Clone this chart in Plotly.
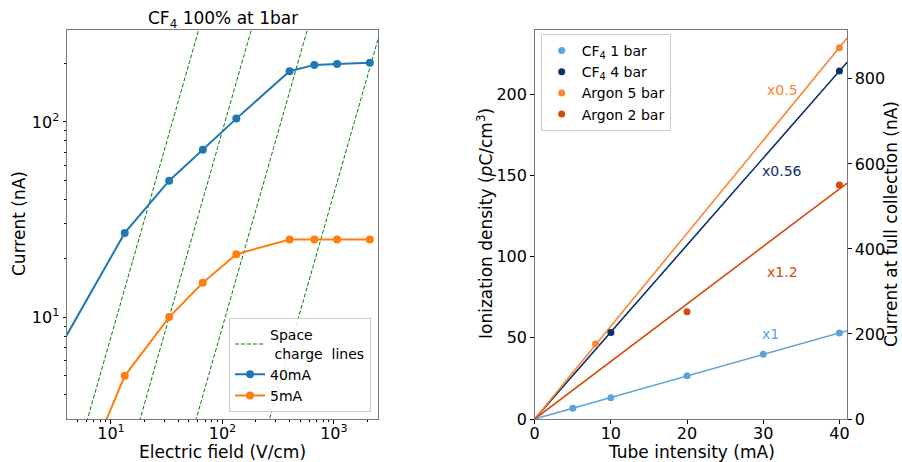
import numpy as np
import plotly.graph_objects as go

# ---------------- Left panel data ----------------
field = [3.33, 13.3, 33.3, 66.7, 133.3, 400, 667, 1067, 2100]
cur_40mA = [6.7, 27, 50, 72, 104, 182, 196, 198, 201]
cur_5mA = [0.76, 5.0, 10, 15, 21, 25, 25, 25, 25]
space_charge_k = [0.079, 0.009, 0.00089, 0.000043]  # I = k * E^2

# ---------------- Right panel data ----------------
cf4_1bar_x = [5, 10, 20, 30, 40]
cf4_1bar_y = [6.6, 13.1, 26.6, 39.8, 52.9]
cf4_4bar_x = [10, 40]
cf4_4bar_y = [53.3, 214.2]
ar_5bar_x = [8, 40]
ar_5bar_y = [46.2, 228.5]
ar_2bar_x = [20, 40]
ar_2bar_y = [66, 144]

labels_right = ["CF<sub>4</sub> 1 bar", "CF<sub>4</sub> 4 bar", "Argon 5 bar", "Argon 2 bar"]
colors_right = ["#5ba3d9", "#0b2f6b", "#fd8535", "#d64a0a"]
scale_texts = ["x1", "x0.56", "x0.5", "x1.2"]
scale_pos_x = [31.0, 32.5, 32.5, 32.5]
scale_pos_y = [52.5, 152.5, 202.2, 90.3]

FONT = "DejaVu Sans"
fig = go.Figure()

# Space charge lines (one trace with gaps)
E_ends = [1.0, 10000.0]
sx, sy = [], []
for k in space_charge_k:
    for e in E_ends:
        sx.append(e)
        sy.append(k * e ** 2)
    sx.append(None)
    sy.append(None)
fig.add_trace(go.Scatter(
    x=sx, y=sy, mode="lines", name="Space<br>\u00a0charge\u00a0\u00a0lines",
    line=dict(color="#008000", width=1, dash="4px,2px"),
    xaxis="x", yaxis="y", legend="legend"))

fig.add_trace(go.Scatter(
    x=field, y=cur_40mA, mode="lines+markers", name="40mA",
    line=dict(color="#1f77b4", width=2), marker=dict(size=8, color="#1f77b4"),
    xaxis="x", yaxis="y", legend="legend"))
fig.add_trace(go.Scatter(
    x=field, y=cur_5mA, mode="lines+markers", name="5mA",
    line=dict(color="#ff7f0e", width=2), marker=dict(size=8, color="#ff7f0e"),
    xaxis="x", yaxis="y", legend="legend"))

# Right panel: fits through origin + points
series = [(cf4_1bar_x, cf4_1bar_y), (cf4_4bar_x, cf4_4bar_y),
          (ar_5bar_x, ar_5bar_y), (ar_2bar_x, ar_2bar_y)]
for (xs, ys), col in zip(series, colors_right):
    xa = np.array(xs, float)
    ya = np.array(ys, float)
    slope = float((xa * ya).sum() / (xa * xa).sum())
    fx = [0, 45]
    fig.add_trace(go.Scatter(
        x=fx, y=[slope * v for v in fx], mode="lines",
        line=dict(color=col, width=1.6), showlegend=False,
        xaxis="x2", yaxis="y2", hoverinfo="skip"))
for (xs, ys), col, lab in zip(series, colors_right, labels_right):
    fig.add_trace(go.Scatter(
        x=xs, y=ys, mode="markers", name=lab,
        marker=dict(size=7, color=col),
        xaxis="x2", yaxis="y2", legend="legend2"))

# dummy trace for secondary axis
fig.add_trace(go.Scatter(x=[None], y=[None], xaxis="x2", yaxis="y3", showlegend=False))

annotations = []
for t, xx, yy, col in zip(scale_texts, scale_pos_x, scale_pos_y, colors_right):
    annotations.append(dict(text=t, x=xx, y=yy, xref="x2", yref="y2", showarrow=False,
                            font=dict(size=14, color=col, family=FONT),
                            xanchor="center", yanchor="middle"))

title_font = dict(size=17, color="black", family=FONT)
# plot area: x 67..847 (780 px), y 30..419 (389 px)
def px_x(p):
    return (p - 67) / 780.0

def px_y(p):
    return (419 - p) / 389.0

annotations += [
    dict(text="CF<sub>4</sub> 100% at 1bar", x=px_x(222.5), y=px_y(19),
         xref="paper", yref="paper", showarrow=False, xanchor="center", yanchor="middle",
         font=title_font),
    dict(text="Electric field (V/cm)", x=px_x(222.5), y=px_y(452),
         xref="paper", yref="paper", showarrow=False, xanchor="center", yanchor="middle",
         font=title_font),
    dict(text="Tube intensity (mA)", x=px_x(691), y=px_y(452),
         xref="paper", yref="paper", showarrow=False, xanchor="center", yanchor="middle",
         font=title_font),
    dict(text="Current (nA)", x=px_x(19), y=px_y(224), textangle=-90,
         xref="paper", yref="paper", showarrow=False, xanchor="center", yanchor="middle",
         font=title_font),
    dict(text="Ionization density (<i>p</i>C/cm<sup>3</sup>)", x=px_x(485), y=px_y(224),
         textangle=-90, xref="paper", yref="paper", showarrow=False,
         xanchor="center", yanchor="middle", font=title_font),
    dict(text="Current at full collection (nA)", x=px_x(891), y=px_y(224), textangle=-90,
         xref="paper", yref="paper", showarrow=False, xanchor="center", yanchor="middle",
         font=title_font),
]

axis_common = dict(showline=True, linecolor="#777", linewidth=1, mirror=True,
                   ticks="outside", ticklen=3.5, tickwidth=1, tickcolor="black",
                   showgrid=False, zeroline=False, automargin=False,
                   tickfont=dict(size=16, color="black", family=FONT))

minor_vals = []
for dec in [1, 10, 100, 1000]:
    for m in range(2, 10):
        minor_vals.append(m * dec)

fig.update_layout(
    width=902, height=462,
    margin=dict(l=67, r=55, t=30, b=43),
    paper_bgcolor="white", plot_bgcolor="white",
    font=dict(family=FONT, color="black"),
    xaxis=dict(domain=[0, 0.3991], type="log", range=[0.606, 3.398],
               tickvals=[10, 100, 1000],
               ticktext=["10<sup>1</sup>", "10<sup>2</sup>", "10<sup>3</sup>"],
               minor=dict(ticks="outside", ticklen=2, tickcolor="black", tickvals=minor_vals),
               ticklabelstandoff=-4,
               anchor="y", **axis_common),
    yaxis=dict(domain=[0, 1], type="log", range=[0.478, 2.471],
               tickvals=[10, 100], ticktext=["10<sup>1</sup>", "10<sup>2</sup>"],
               minor=dict(ticks="outside", ticklen=2, tickcolor="black", tickvals=minor_vals),
               anchor="x", **axis_common),
    xaxis2=dict(domain=[0.5996, 1], range=[0, 41], tickvals=[0, 10, 20, 30, 40],
                ticklabelstandoff=-4,
                anchor="y2", **axis_common),
    yaxis2=dict(domain=[0, 1], range=[0, 239.4], tickvals=[0, 50, 100, 150, 200],
                anchor="x2", **axis_common),
    yaxis3=dict(overlaying="y2", side="right", anchor="x2", range=[0, 915],
                tickvals=[0, 200, 400, 600, 800],
                showline=False, ticks="outside", ticklen=3.5, tickwidth=1, tickcolor="black",
                showgrid=False, zeroline=False, automargin=False,
                tickfont=dict(size=16, color="black", family=FONT)),
    legend=dict(x=0.3898, y=0.0172, xanchor="right", yanchor="bottom",
                bgcolor="rgba(255,255,255,0.85)", bordercolor="#ccc", borderwidth=1,
                font=dict(size=14, family=FONT), itemwidth=30, tracegroupgap=0),
    legend2=dict(x=0.6073, y=0.99, xanchor="left", yanchor="top",
                 bgcolor="rgba(255,255,255,0.85)", bordercolor="#ccc", borderwidth=1,
                 font=dict(size=14, family=FONT), itemwidth=30),
    annotations=annotations,
    showlegend=True,
)

fig.write_html("out.html")
